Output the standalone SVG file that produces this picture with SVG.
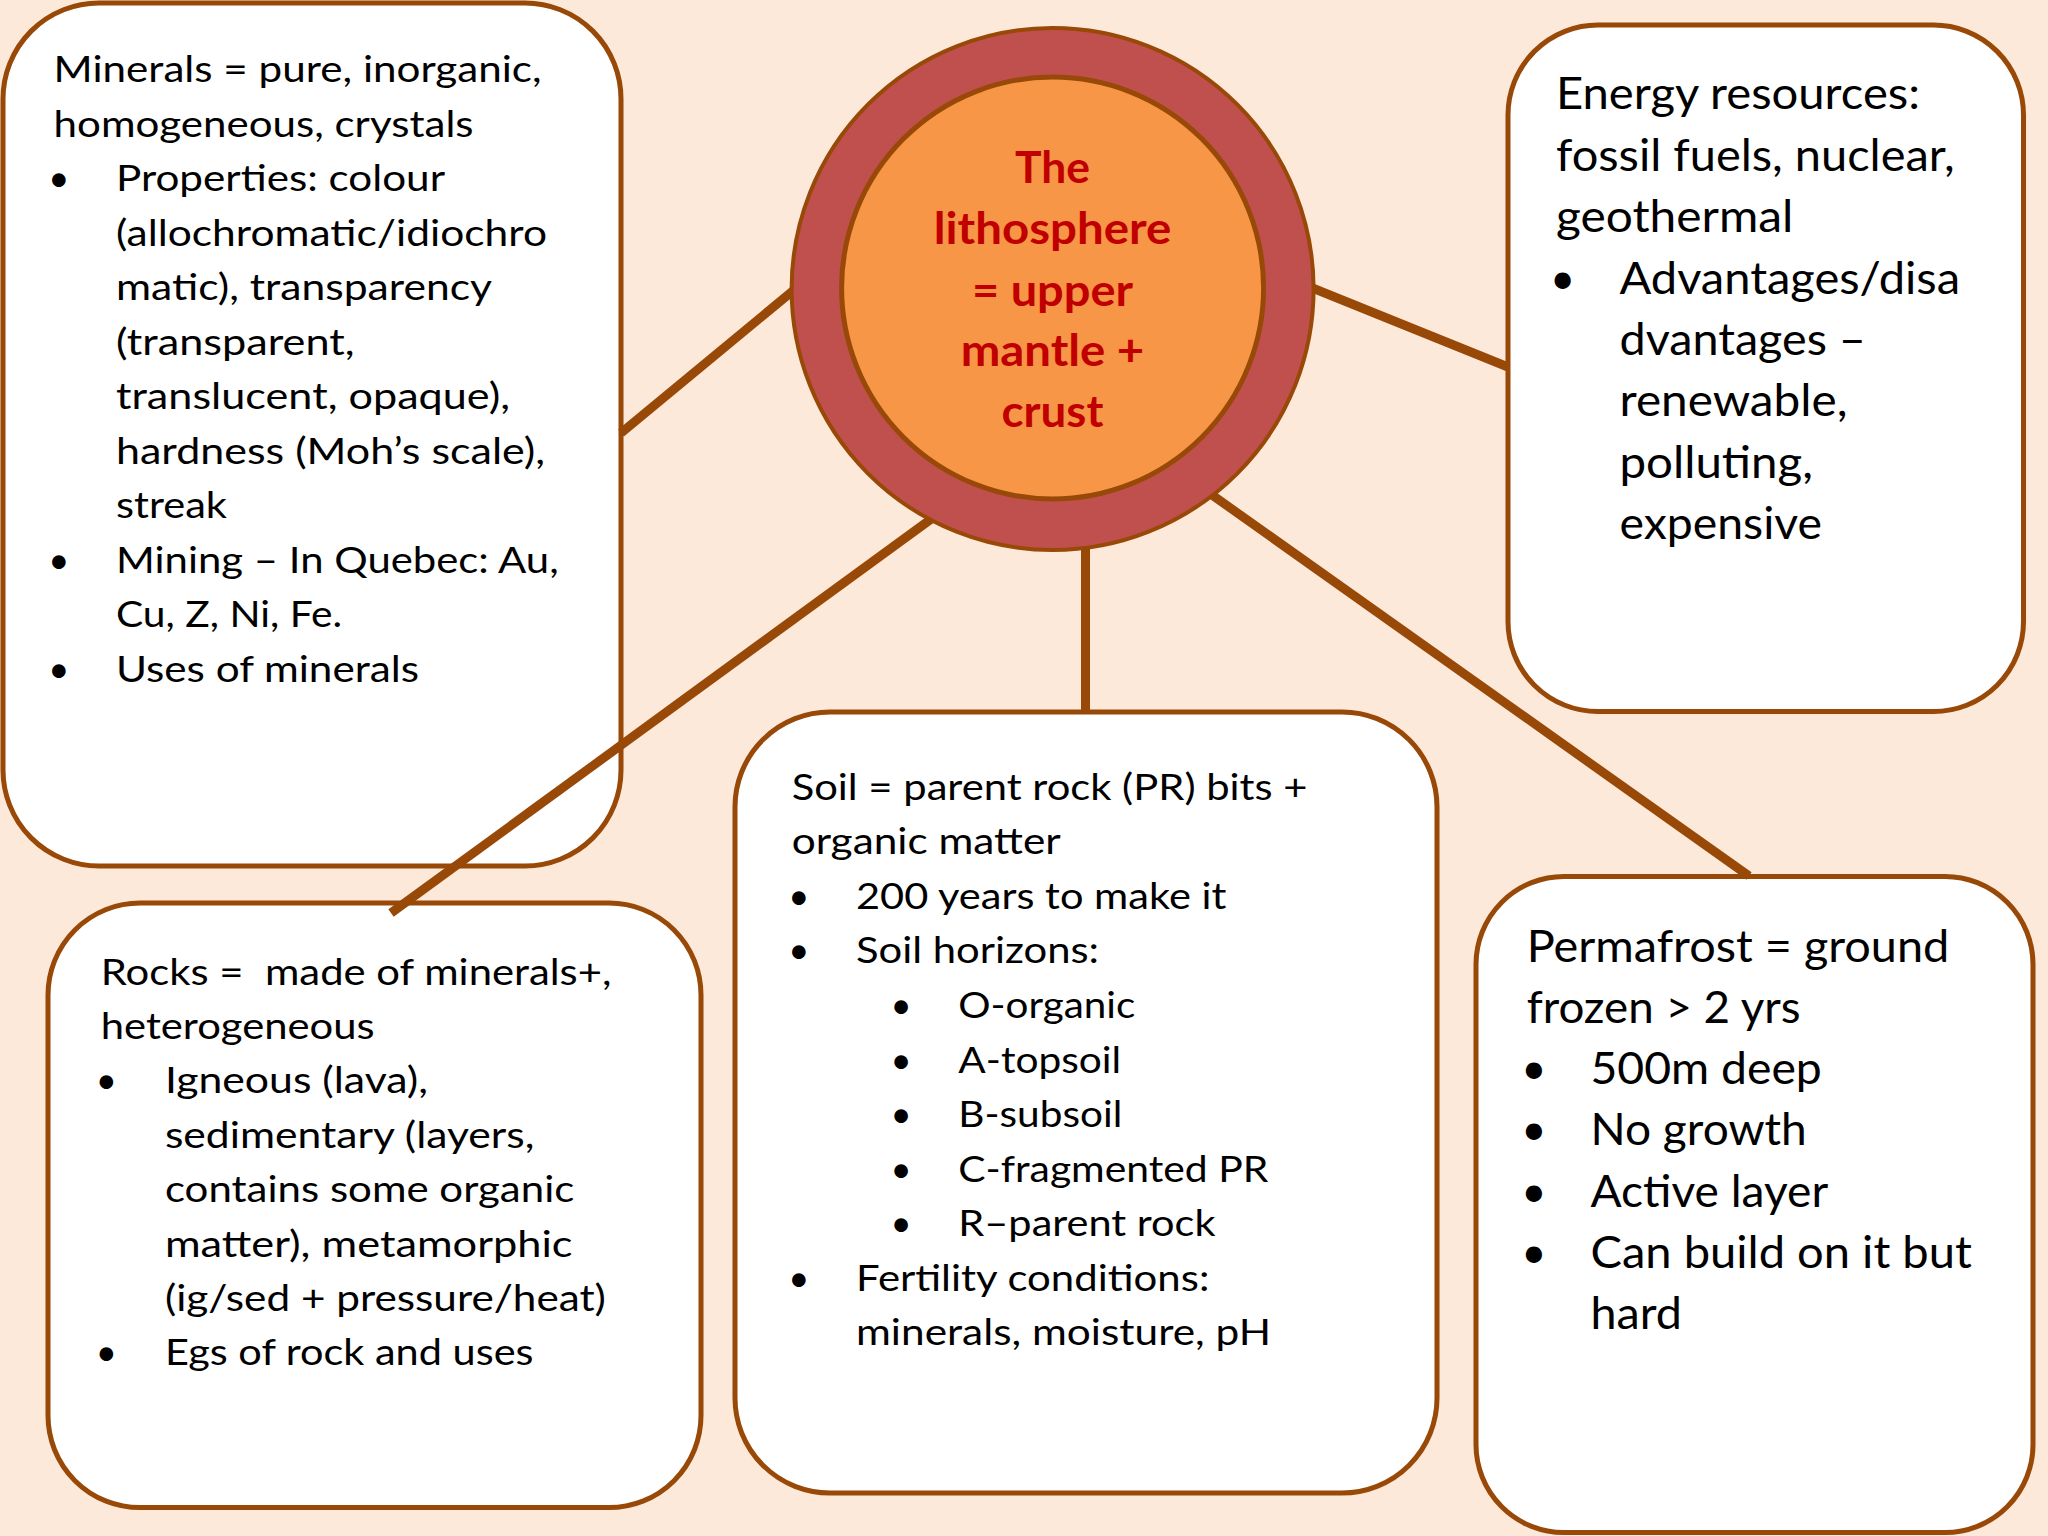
<svg xmlns="http://www.w3.org/2000/svg" width="2048" height="1536" viewBox="0 0 2048 1536">
<style>
.bg{fill:#FDE9D9}
.box{fill:#FFFFFF;stroke:#984807;stroke-width:5}
.conn{stroke:#984807;stroke-width:9;fill:none;stroke-linecap:butt}
.t{font-family:Lato,"Open Sans","Liberation Sans",sans-serif;fill:#000000}
.s{font-size:36.5px}
.l{font-size:43.5px}
.c{font-family:Lato,"Open Sans","Liberation Sans",sans-serif;font-weight:bold;font-size:43px;fill:#C00000;text-anchor:middle}
.b{text-anchor:middle}
</style>
<rect class="bg" x="0" y="0" width="2048" height="1536"/>

<g id="minerals">
<rect class="box" x="3" y="3" width="618" height="863" rx="96" ry="96"/>
<g class="t s">
<text x="53.6" y="82.3" textLength="488" lengthAdjust="spacingAndGlyphs">Minerals = pure, inorganic,</text>
<text x="53.6" y="136.8" textLength="420" lengthAdjust="spacingAndGlyphs">homogeneous, crystals</text>
<text class="b" x="58.8" y="191.3">•</text>
<text x="116" y="191.3" textLength="329" lengthAdjust="spacingAndGlyphs">Properties: colour</text>
<text x="116" y="245.8" textLength="431" lengthAdjust="spacingAndGlyphs">(allochromatic/idiochro</text>
<text x="116" y="300.3" textLength="376" lengthAdjust="spacingAndGlyphs">matic), transparency</text>
<text x="116" y="354.8" textLength="238.6" lengthAdjust="spacingAndGlyphs">(transparent,</text>
<text x="116" y="409.3" textLength="394" lengthAdjust="spacingAndGlyphs">translucent, opaque),</text>
<text x="116" y="463.8" textLength="429" lengthAdjust="spacingAndGlyphs">hardness (Moh’s scale),</text>
<text x="116" y="518.3" textLength="111" lengthAdjust="spacingAndGlyphs">streak</text>
<text class="b" x="58.8" y="572.8">•</text>
<text x="116" y="572.8" textLength="442.7" lengthAdjust="spacingAndGlyphs">Mining – In Quebec: Au,</text>
<text x="116" y="627.3" textLength="226" lengthAdjust="spacingAndGlyphs">Cu, Z, Ni, Fe.</text>
<text class="b" x="58.8" y="681.8">•</text>
<text x="116" y="681.8" textLength="303" lengthAdjust="spacingAndGlyphs">Uses of minerals</text>
</g>
</g>

<g id="energy">
<rect class="box" x="1508" y="25" width="515.5" height="686.6" rx="90" ry="90"/>
<g class="t l">
<text x="1556" y="109.3" textLength="364" lengthAdjust="spacingAndGlyphs">Energy resources:</text>
<text x="1556" y="170.7" textLength="398.6" lengthAdjust="spacingAndGlyphs">fossil fuels, nuclear,</text>
<text x="1556" y="232.1" textLength="237.4" lengthAdjust="spacingAndGlyphs">geothermal</text>
<text class="b" x="1562.6" y="293.5">•</text>
<text x="1619.5" y="293.5" textLength="340.5" lengthAdjust="spacingAndGlyphs">Advantages/disa</text>
<text x="1619.5" y="354.9" textLength="246.4" lengthAdjust="spacingAndGlyphs">dvantages –</text>
<text x="1619.5" y="416.3" textLength="228" lengthAdjust="spacingAndGlyphs">renewable,</text>
<text x="1619.5" y="477.7" textLength="193.5" lengthAdjust="spacingAndGlyphs">polluting,</text>
<text x="1619.5" y="539.1" textLength="202.5" lengthAdjust="spacingAndGlyphs">expensive</text>
</g>
</g>

<g id="rocks">
<rect class="box" x="48" y="903" width="653" height="604.6" rx="92" ry="92"/>
<g class="t s">
<text x="100.7" y="984.6" textLength="510.8" lengthAdjust="spacingAndGlyphs" xml:space="preserve">Rocks =  made of minerals+,</text>
<text x="100.7" y="1039" textLength="274" lengthAdjust="spacingAndGlyphs">heterogeneous</text>
<text class="b" x="106.3" y="1093.4">•</text>
<text x="164.9" y="1093.4" textLength="263" lengthAdjust="spacingAndGlyphs">Igneous (lava),</text>
<text x="164.9" y="1147.8" textLength="369.5" lengthAdjust="spacingAndGlyphs">sedimentary (layers,</text>
<text x="164.9" y="1202.2" textLength="409.4" lengthAdjust="spacingAndGlyphs">contains some organic</text>
<text x="164.9" y="1256.6" textLength="407.6" lengthAdjust="spacingAndGlyphs">matter), metamorphic</text>
<text x="164.9" y="1311" textLength="441" lengthAdjust="spacingAndGlyphs">(ig/sed + pressure/heat)</text>
<text class="b" x="106.3" y="1365.4">•</text>
<text x="164.9" y="1365.4" textLength="368.6" lengthAdjust="spacingAndGlyphs">Egs of rock and uses</text>
</g>
</g>

<g id="soil">
<rect class="box" x="735" y="712" width="702" height="781" rx="95" ry="95"/>
<g class="t s">
<text x="791.7" y="799.8" textLength="515.8" lengthAdjust="spacingAndGlyphs">Soil = parent rock (PR) bits +</text>
<text x="791.7" y="854.35" textLength="269" lengthAdjust="spacingAndGlyphs">organic matter</text>
<text class="b" x="798.8" y="908.9">•</text>
<text x="856" y="908.9" textLength="370.4" lengthAdjust="spacingAndGlyphs">200 years to make it</text>
<text class="b" x="798.8" y="963.45">•</text>
<text x="856" y="963.45" textLength="243" lengthAdjust="spacingAndGlyphs">Soil horizons:</text>
<text class="b" x="901.2" y="1018">•</text>
<text x="958.3" y="1018" textLength="177" lengthAdjust="spacingAndGlyphs">O-organic</text>
<text class="b" x="901.2" y="1072.55">•</text>
<text x="958.3" y="1072.55" textLength="162.9" lengthAdjust="spacingAndGlyphs">A-topsoil</text>
<text class="b" x="901.2" y="1127.1">•</text>
<text x="958.3" y="1127.1" textLength="163.9" lengthAdjust="spacingAndGlyphs">B-subsoil</text>
<text class="b" x="901.2" y="1181.65">•</text>
<text x="958.3" y="1181.65" textLength="310" lengthAdjust="spacingAndGlyphs">C-fragmented PR</text>
<text class="b" x="901.2" y="1236.2">•</text>
<text x="958.3" y="1236.2" textLength="257.2" lengthAdjust="spacingAndGlyphs">R–parent rock</text>
<text class="b" x="798.8" y="1290.75">•</text>
<text x="856" y="1290.75" textLength="353.4" lengthAdjust="spacingAndGlyphs">Fertility conditions:</text>
<text x="856" y="1345.3" textLength="415" lengthAdjust="spacingAndGlyphs">minerals, moisture, pH</text>
</g>
</g>

<g id="permafrost">
<rect class="box" x="1476" y="876.4" width="557" height="656.2" rx="88" ry="88"/>
<g class="t l">
<text x="1526.7" y="962.2" textLength="422.6" lengthAdjust="spacingAndGlyphs">Permafrost = ground</text>
<text x="1526.7" y="1023.3" textLength="273.8" lengthAdjust="spacingAndGlyphs">frozen &gt; 2 yrs</text>
<text class="b" x="1533.9" y="1084.3">•</text>
<text x="1590.5" y="1084.3" textLength="231.3" lengthAdjust="spacingAndGlyphs">500m deep</text>
<text class="b" x="1533.9" y="1145.4">•</text>
<text x="1590.5" y="1145.4" textLength="216.3" lengthAdjust="spacingAndGlyphs">No growth</text>
<text class="b" x="1533.9" y="1206.5">•</text>
<text x="1590.5" y="1206.5" textLength="237.7" lengthAdjust="spacingAndGlyphs">Active layer</text>
<text class="b" x="1533.9" y="1267.6">•</text>
<text x="1590.5" y="1267.6" textLength="381.3" lengthAdjust="spacingAndGlyphs">Can build on it but</text>
<text x="1590.5" y="1328.6" textLength="91.5" lengthAdjust="spacingAndGlyphs">hard</text>
</g>
</g>

<g id="connectors">
<line class="conn" x1="800" y1="285" x2="621" y2="433"/>
<line class="conn" x1="1305" y1="285" x2="1508" y2="367"/>
<line class="conn" x1="938" y1="514" x2="391" y2="913"/>
<line class="conn" x1="1085.5" y1="540" x2="1085.5" y2="712"/>
<line class="conn" x1="1205" y1="490" x2="1749" y2="876"/>
</g>

<g id="lithosphere">
<circle cx="1052.6" cy="289" r="261" fill="#C0504D" stroke="#984807" stroke-width="4"/>
<circle cx="1052.6" cy="288" r="211" fill="#F79646" stroke="#984807" stroke-width="5"/>
<text class="c" x="1052.5" y="183" textLength="75" lengthAdjust="spacingAndGlyphs">The</text>
<text class="c" x="1052.5" y="244" textLength="237.5" lengthAdjust="spacingAndGlyphs">lithosphere</text>
<text class="c" x="1052.5" y="305.7" textLength="161" lengthAdjust="spacingAndGlyphs">= upper</text>
<text class="c" x="1052.5" y="366" textLength="183.6" lengthAdjust="spacingAndGlyphs">mantle +</text>
<text class="c" x="1052.5" y="427" textLength="101.8" lengthAdjust="spacingAndGlyphs">crust</text>
</g>
</svg>
